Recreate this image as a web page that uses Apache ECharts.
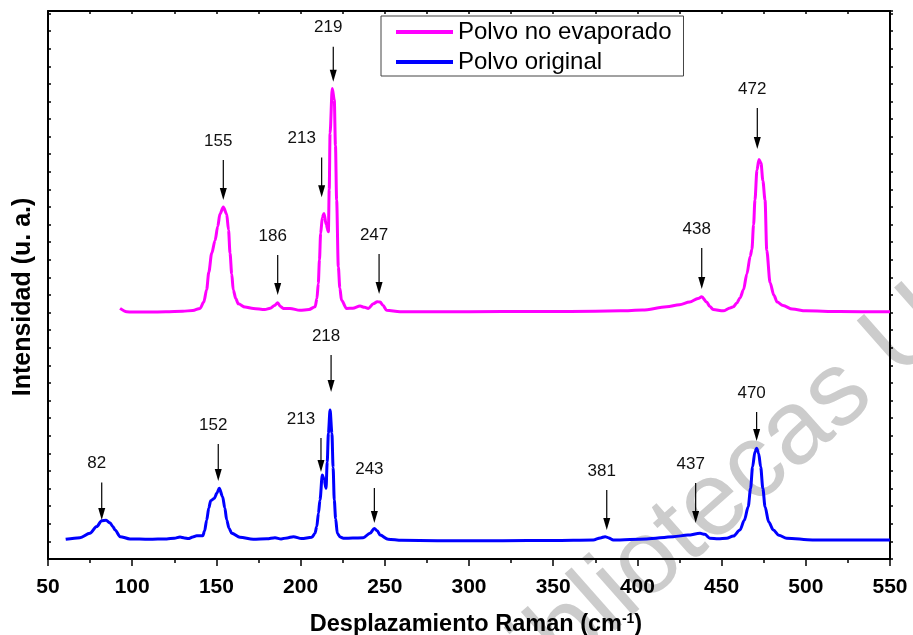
<!DOCTYPE html>
<html>
<head>
<meta charset="utf-8">
<script src="https://cdn.jsdelivr.net/npm/echarts@6/dist/echarts.min.js"></script>
<style>
  html, body { margin: 0; padding: 0; background: #fff; }
  #chart { width: 913px; height: 635px; }
</style>
</head>
<body>
<div id="chart"></div>
<script>
// espectro "Polvo no evaporado" (desplazado hacia arriba)
var magX = [92.8, 96.7, 100, 110, 120, 130, 136, 140.3, 142.5, 144.2, 145.5, 147.2, 149.2, 150.8, 152.1, 154.1,
	156.1, 157.2, 158.1, 159.1, 160, 161.5, 163, 167, 172, 178.8, 182, 184.5, 186.4, 188, 189.7, 193.7, 199.6, 205,
	208.6, 209.7, 210.5, 211.2, 211.9, 212.9, 213.9, 215.2, 216.5, 217.0, 217.5, 218.8, 220, 220.7, 221.4, 222.4,
	223.3, 224.3, 227.3, 231, 235.3, 238, 240.2, 243.2, 245.5, 247.2, 249, 251.1, 259, 280, 320, 360, 390, 403,
	417.4, 425, 431, 436, 438.2, 441.1, 443, 445, 451, 455, 457, 459, 461, 463, 465, 467, 468, 469, 469.8, 471,
	472.2, 473.4, 474.5, 475.8, 476.8, 478.8, 481, 483, 486.5, 492, 500, 520, 550];
var magY = [14.24, 14.05, 14.03, 14.03, 14.05, 14.08, 14.12, 14.24, 14.6, 15.3, 16.3, 17.37, 18.1, 18.9, 19.6, 20.0,
	19.6, 18.7, 17.37, 16.2, 15.3, 14.8, 14.5, 14.32, 14.24, 14.18, 14.25, 14.4, 14.56, 14.35, 14.24, 14.24, 14.13, 14.18,
	14.33, 14.8, 15.66, 17.0, 18.5, 19.4, 19.64, 19.0, 18.6, 21, 24.2, 26.74, 26.1, 23.5, 20.4, 16.6,
	15.4, 14.7, 14.24, 14.25, 14.37, 14.3, 14.24, 14.5, 14.62, 14.6, 14.4, 14.13, 14.05, 14.05, 14.06, 14.07, 14.1, 14.15,
	14.33, 14.45, 14.6, 14.8, 14.9, 14.6, 14.35, 14.18, 14.1, 14.26, 14.33, 14.55, 14.85, 15.3, 16.2, 17.2, 17.6, 19.0, 20.4, 22.1,
	22.7, 22.5, 21.5, 20.4, 17.55, 15.7, 15.0, 14.6, 14.4, 14.2, 14.1, 14.06, 14.05];

// espectro "Polvo original"
var bluX = [60.5, 69, 74.9, 78.9, 81.9, 84.5, 86.8, 88.5, 89.8, 92.8, 98.7, 110, 120.5, 125, 128.4, 131, 133.3, 136,
	138.3, 141.9, 143, 144.2, 145.5, 146.6, 148.8, 150.3, 151.7, 153.7, 155, 156.1, 157.5, 159.1, 164, 171.9, 180,
	184.8, 188.4, 192, 195.7, 200.6, 206.6, 208.5, 209.6, 210.6, 211.5, 212.9, 214, 215.1, 215.8, 216.5, 217.5, 218.6,
	219.3, 220, 220.8, 221.8, 223.5, 225.4, 231, 237.2, 241.2, 243.8, 245.5, 247.2, 252, 260, 281.2, 320, 350, 373.8,
	378, 380.8, 383, 385.7, 405.5, 421.3, 430, 437.2, 440, 443, 448, 453, 457, 460.9, 463.5, 465.8, 467.2, 468.4,
	469.8, 470.8, 472, 473.2, 474.5, 475.8, 478, 480.7, 484, 488.6, 504, 550];
var bluY = [1.12, 1.21, 1.46, 1.84, 2.18, 2.2, 2.06, 1.85, 1.65, 1.27, 1.14, 1.12, 1.14, 1.18, 1.25, 1.2, 1.16, 1.25,
	1.32, 1.32, 1.6, 2.2, 2.9, 3.31, 3.45, 3.75, 4.02, 3.54, 2.9, 2.22, 1.75, 1.46, 1.23, 1.12, 1.15,
	1.21, 1.14, 1.2, 1.27, 1.16, 1.23, 1.45, 1.84, 2.6, 3.35, 4.77, 4.5, 4.02, 5.5, 7.14, 8.47, 7.14,
	5.2, 3.35, 2.3, 1.46, 1.25, 1.18, 1.19, 1.21, 1.46, 1.74, 1.6, 1.36, 1.12, 1.06, 1.04, 1.04, 1.05, 1.08,
	1.2, 1.27, 1.2, 1.08, 1.14, 1.27, 1.36, 1.46, 1.4, 1.18, 1.15, 1.18, 1.3, 1.65, 2.2, 2.97, 4.0, 5.24,
	6.1, 6.29, 6.0, 5.24, 4.0, 2.97, 2.1, 1.65, 1.35, 1.18, 1.08, 1.08];

// flechas de picos: etiqueta, x, inicio (arriba) y punta (abajo)
var magArrowLabels = ['155', '186', '213', '219', '247', '438', '472'];
var magArrowX = [154.1, 186.4, 212.5, 219.4, 246.6, 438.2, 471.2];
var magArrowTop = [22.67, 17.27, 22.82, 29.11, 17.33, 17.67, 25.63];
var magArrowTip = [20.40, 15.0, 20.55, 27.12, 15.06, 15.34, 23.30];

var bluArrowLabels = ['82', '152', '213', '218', '243', '381', '437', '470'];
var bluArrowX = [81.9, 151.1, 212.1, 218.1, 243.8, 381.8, 434.6, 470.8];
var bluArrowTop = [4.34, 6.53, 6.88, 11.59, 4.03, 3.92, 4.32, 8.35];
var bluArrowTip = [2.22, 4.43, 4.94, 9.49, 2.05, 1.65, 2.05, 6.70];

var xTicks = { min: 50, max: 550, interval: 50 };
var yRange = { min: 0, max: 31.14, interval: 1 };

var FONT = '"Liberation Sans", Arial, sans-serif';

function zip(xs, ys) {
	var out = [];
	for (var i = 0; i < xs.length; i++) out.push([xs[i], ys[i]]);
	return out;
}

function lineSeries(name, color, xs, ys) {
	return {
		name: name,
		type: 'line',
		data: zip(xs, ys),
		showSymbol: false,
		symbol: 'none',
		smooth: 0.3,
		smoothMonotone: 'x',
		lineStyle: { color: color, width: 3 },
		itemStyle: { color: color },
		z: 3
	};
}

// flecha negra con su número encima, dibujada con las escalas del gráfico
function arrowSeries(labels, xs, tops, tips) {
	var data = [];
	for (var i = 0; i < xs.length; i++) data.push([xs[i], tops[i], tips[i]]);
	return {
		type: 'custom',
		silent: true,
		z: 4,
		clip: false,
		encode: { x: 0, y: [1, 2] },
		data: data,
		renderItem: function (params, api) {
			var p1 = api.coord([api.value(0), api.value(1)]),
				p2 = api.coord([api.value(0), api.value(2)]),
				head = 12,
				half = 3.5,
				txt = labels[params.dataIndex],
				dx = txt === '213' ? -20 : -5;		// el 213 va corrido a la izquierda
			return {
				type: 'group',
				children: [{
					type: 'line',
					shape: { x1: p1[0], y1: p1[1], x2: p2[0], y2: p2[1] - head + 1 },
					style: { stroke: '#000', lineWidth: 1.2 }
				}, {
					type: 'polygon',
					shape: { points: [[p2[0] - half, p2[1] - head], [p2[0] + half, p2[1] - head], [p2[0], p2[1]]] },
					style: { fill: '#000' }
				}, {
					type: 'text',
					x: p1[0] + dx,
					y: p1[1] - 19,
					style: {
						text: txt,
						align: 'center',
						verticalAlign: 'middle',
						font: '17px ' + FONT,
						fill: '#111'
					}
				}]
			};
		}
	};
}

var chart = echarts.init(document.getElementById('chart'), null, { renderer: 'canvas' });

chart.setOption({
	backgroundColor: '#fff',
	animation: false,
	grid: { left: 48, right: 23, top: 11, bottom: 76, containLabel: false, outerBoundsMode: 'none' },
	graphic: [{
		type: 'text',
		x: 477,
		y: 714,
		rotation: 0.724,
		z: -10,
		silent: true,
		style: {
			text: 'Bibliotecas UNAM',
			fill: '#cccccc',
			font: '105px "Liberation Sans", Arial, sans-serif',
			align: 'left',
			verticalAlign: 'middle'
		}
	}],
	legend: {
		left: 381,
		top: 16,
		orient: 'vertical',
		icon: 'rect',
		itemWidth: 57,
		itemHeight: 4,
		itemGap: 4,
		padding: [3, 12, 1, 15],
		borderColor: '#444',
		borderWidth: 1,
		backgroundColor: '#fff',
		textStyle: { fontFamily: FONT, fontSize: 24, color: '#000', lineHeight: 26 },
		data: ['Polvo no evaporado', 'Polvo original']
	},
	xAxis: [{
		type: 'value',
		position: 'bottom',
		min: xTicks.min,
		max: xTicks.max,
		interval: xTicks.interval,
		splitLine: { show: false },
		axisLine: { onZero: false, lineStyle: { color: '#000', width: 2 } },
		axisTick: { inside: false, length: 7, lineStyle: { color: '#000', width: 1.5 } },
		minorTick: { show: true, splitNumber: 2, length: 4, lineStyle: { color: '#000', width: 1.5 } },
		axisLabel: { color: '#000', fontFamily: FONT, fontSize: 21, fontWeight: 'bold', margin: 18 },
		name: '{a|Desplazamiento Raman (cm}{s|-1}{a|)}',
		nameLocation: 'middle',
		nameGap: 53,
		nameTextStyle: {
			padding: [0, 0, 0, 14],
			rich: {
				a: { fontFamily: FONT, fontSize: 23.5, fontWeight: 'bold', color: '#000', lineHeight: 26 },
				s: { fontFamily: FONT, fontSize: 14, fontWeight: 'bold', color: '#000', lineHeight: 13, verticalAlign: 'top' }
			}
		}
	}, {
		type: 'value',
		position: 'top',
		min: xTicks.min,
		max: xTicks.max,
		interval: xTicks.interval,
		splitLine: { show: false },
		axisLine: { onZero: false, lineStyle: { color: '#000', width: 2 } },
		axisTick: { inside: true, length: 3, lineStyle: { color: '#000', width: 1.5 } },
		minorTick: { show: true, splitNumber: 2, length: 3, lineStyle: { color: '#000', width: 1.5 } },
		axisLabel: { show: false }
	}],
	yAxis: [{
		type: 'value',
		position: 'left',
		min: yRange.min,
		max: yRange.max,
		interval: yRange.interval,
		splitLine: { show: false },
		axisLine: { onZero: false, lineStyle: { color: '#000', width: 2 } },
		axisTick: { inside: true, length: 3, lineStyle: { color: '#000', width: 1.5 } },
		axisLabel: { show: false },
		name: 'Intensidad (u. a.)',
		nameLocation: 'middle',
		nameGap: 12,
		nameTextStyle: { fontFamily: FONT, fontSize: 25, fontWeight: 'bold', color: '#000', padding: [0, 24, 0, 0] }
	}, {
		type: 'value',
		position: 'right',
		min: yRange.min,
		max: yRange.max,
		interval: yRange.interval,
		splitLine: { show: false },
		axisLine: { onZero: false, lineStyle: { color: '#000', width: 2 } },
		axisTick: { inside: false, length: 3, lineStyle: { color: '#000', width: 1.5 } },
		axisLabel: { show: false }
	}],
	series: [
		lineSeries('Polvo no evaporado', '#ff00ff', magX, magY),
		lineSeries('Polvo original', '#0000ff', bluX, bluY),
		arrowSeries(magArrowLabels, magArrowX, magArrowTop, magArrowTip),
		arrowSeries(bluArrowLabels, bluArrowX, bluArrowTop, bluArrowTip)
	]
});
</script>
</body>
</html>
